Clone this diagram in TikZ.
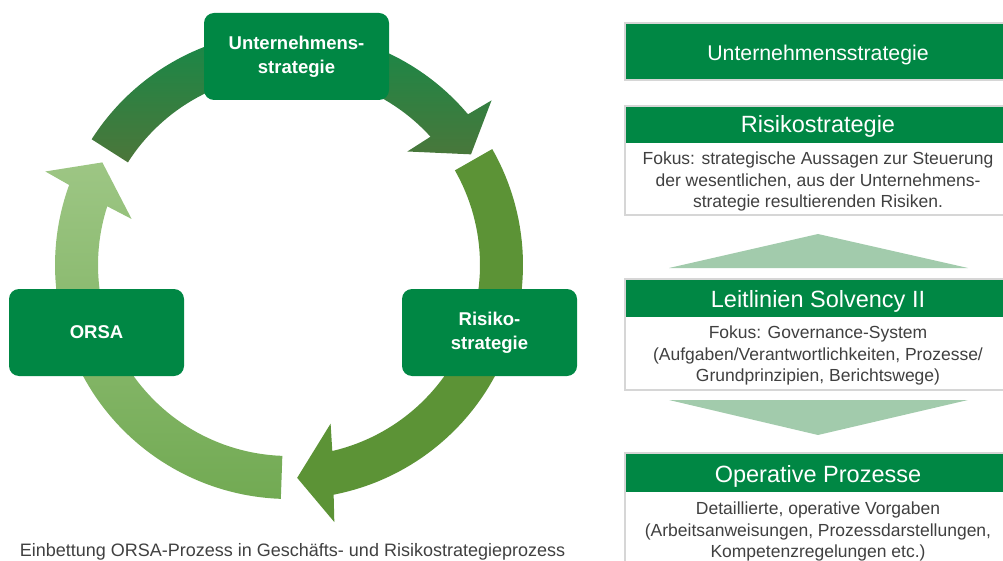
\documentclass[tikz,border=0pt]{standalone}
\usepackage{fontspec}
\setmainfont{Liberation Sans}
\definecolor{boxgreen}{RGB}{0,135,68}
\definecolor{arrowAtop}{RGB}{22,137,72}
\definecolor{arrowAbot}{RGB}{76,118,58}
\definecolor{arrowB}{RGB}{92,147,54}
\definecolor{arrowCtop}{RGB}{157,198,132}
\definecolor{arrowCbot}{RGB}{114,170,83}
\definecolor{chev}{RGB}{162,203,172}
\definecolor{rimgray}{RGB}{214,214,214}
\definecolor{bodygray}{RGB}{64,64,64}
\newcommand\ringarrow[3]{%
  \pgfmathsetmacro\rngA{#2-8.8}%
  \pgfmathsetmacro\rngB{#2-7.8}%
  \pgfmathsetmacro\rngC{#2-12.5}%
  \pgfmathsetmacro\rngD{#2-10.9}%
  \path[#3] plot[domain=#1:\rngA,samples=60] (\x:234) -- (\rngB:261) -- (#2:213)
    -- (\rngC:164) -- (\rngD:191) -- plot[domain=\rngD:#1,samples=60] (\x:191) -- cycle;}
\begin{document}
\begin{tikzpicture}[x=1pt,y=-1pt,
  lbox/.style={rounded corners=10pt, fill=boxgreen, text=white,
    font=\bfseries\fontsize{18.5}{24}\selectfont, align=center,
    minimum height=87pt, inner sep=0pt},
  rim/.style={draw=rimgray, line width=2.5pt},
  hdr/.style={font=\fontsize{23.5}{28}\selectfont, text=white, inner sep=0pt},
  bodytxt/.style={font=\fontsize{17.5}{21.5}\selectfont, text=bodygray, align=center, inner sep=0pt}]
\useasboundingbox (0,0) rectangle (1003,561);
\clip (0,0) rectangle (1003,561);
% ring of arrows
\begin{scope}[shift={(289,265)}]
  \ringarrow{-147.5}{-31.3}{top color=arrowAtop, bottom color=arrowAbot}
  \ringarrow{-29.7}{87.8}{fill=arrowB}
  \ringarrow{92}{208.8}{top color=arrowCtop, bottom color=arrowCbot}
\end{scope}
% boxes on the ring
\node[lbox, minimum width=185pt] (ust) at (296.5,56.5) {Unternehmens-\\strategie};
\node[lbox, minimum width=175pt] (orsa) at (96.5,332.5) {ORSA};
\node[lbox, minimum width=175pt] (rsk) at (489.5,332.5) {Risiko-\\strategie};
% caption
\node[font=\fontsize{18}{22}\selectfont, text=bodygray, anchor=base, inner sep=0pt] (cap)
  at (292.5,556) {Einbettung ORSA-Prozess in Geschäfts- und Risikostrategieprozess};
% right column
\filldraw[rim, fill=boxgreen] (625,23) rectangle (1011,80);
\node[hdr, font=\fontsize{21.3}{26}\selectfont, anchor=base] (t1) at (818,61) {Unternehmensstrategie};

\filldraw[rim, fill=white] (625,106) rectangle (1011,215);
\fill[boxgreen] (626.25,107.25) rectangle (1011,143);
\node[hdr, anchor=base] (t2) at (818,133) {Risikostrategie};
\node[bodytxt] (t2b) at (818,181.5) {Fokus: strategische Aussagen zur Steuerung\\der wesentlichen, aus der Unternehmens-\\strategie resultierenden Risiken.};

\fill[chev] (669,268) -- (818,234) -- (968,268) -- cycle;

\filldraw[rim, fill=white] (625,279) rectangle (1011,390);
\fill[boxgreen] (626.25,280.25) rectangle (1011,317);
\node[hdr, anchor=base] (t3) at (818,307) {Leitlinien Solvency II};
\node[bodytxt] (t3b) at (818,355.5) {Fokus: Governance-System\\(Aufgaben/Verantwortlichkeiten, Prozesse/\\Grundprinzipien, Berichtswege)};

\fill[chev] (669,400) -- (968,400) -- (818,435) -- cycle;

\filldraw[rim, fill=white] (625,453) rectangle (1011,580);
\fill[boxgreen] (626.25,454.25) rectangle (1011,492);
\node[hdr, anchor=base] (t4) at (818,482) {Operative Prozesse};
\node[bodytxt] (t4b) at (818,531.5) {Detaillierte, operative Vorgaben\\(Arbeitsanweisungen, Prozessdarstellungen,\\Kompetenzregelungen etc.)};
\end{tikzpicture}
\end{document}
